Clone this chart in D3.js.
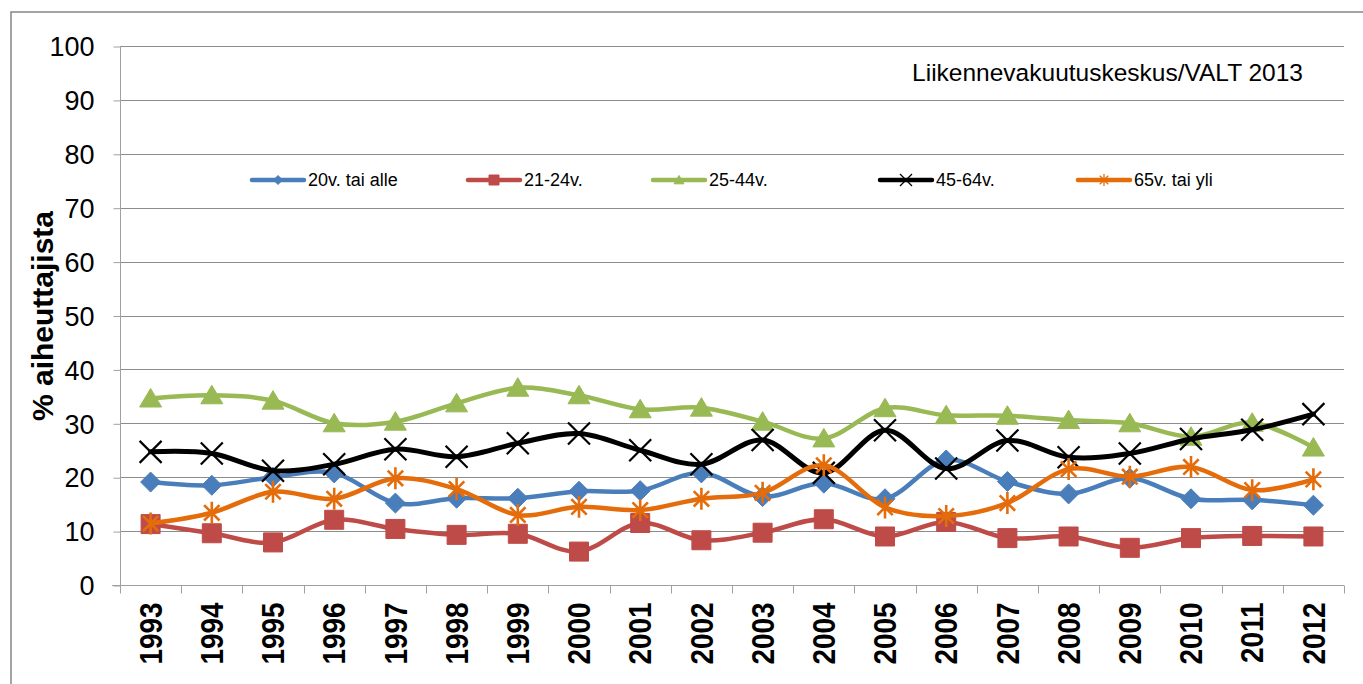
<!DOCTYPE html>
<html><head><meta charset="utf-8">
<script src="https://cdn.jsdelivr.net/npm/d3@7"></script>
<style>html,body{margin:0;padding:0;background:#fff;overflow:hidden}</style>
</head><body>
<svg id="c" width="1363" height="684"></svg>
<script>
const years = ["1993","1994","1995","1996","1997","1998","1999","2000","2001","2002","2003","2004","2005","2006","2007","2008","2009","2010","2011","2012"];
const seriesNames = ["20v. tai alle","21-24v.","25-44v.","45-64v.","65v. tai yli"];
const s20 = [19.1,18.5,20.0,20.8,15.2,16.1,16.1,17.4,17.5,20.8,16.4,18.9,16.0,23.2,19.2,16.9,19.8,16.0,15.8,14.8];
const s21 = [11.3,9.6,7.9,12.1,10.4,9.3,9.5,6.2,11.5,8.3,9.7,12.2,9.0,11.7,8.7,9.0,6.9,8.7,9.1,9.0];
const s25 = [34.6,35.2,34.2,30.0,30.3,33.7,36.6,35.2,32.6,32.9,30.3,27.2,32.8,31.5,31.4,30.6,30.0,27.5,30.1,25.5];
const s45 = [24.7,24.4,21.2,22.4,25.2,23.8,26.3,28.1,25.0,22.4,26.9,20.8,28.7,21.6,26.8,23.7,24.4,27.1,28.8,31.7];
const s65 = [11.4,13.4,17.3,16.0,19.8,17.8,13.0,14.5,13.9,16.0,17.1,22.2,14.4,12.8,15.2,21.5,20.1,21.9,17.6,19.6];
const yTicks = [0,10,20,30,40,50,60,70,80,90,100];
const yTitle = "% aiheuttajista";
const sourceText = "Liikennevakuutuskeskus/VALT 2013";

const seriesValues = [s20,s21,s25,s45,s65];
const colors = ["#4A7EBB","#BE4B48","#98B954","#000000","#E46C0A"];
const markers = ["diamond","square","triangle","x","star"];
const legendX = [252,468,653,880,1078];

const svg = d3.select("#c");
const L = 120, R = 1344, T = 46, B = 585;
const x = d3.scaleBand().domain(years).range([L,R]).padding(0);
const y = d3.scaleLinear().domain([0,100]).range([B,T]);

// outer frame
svg.append("rect").attr("x",11).attr("y",12).attr("width",1400).attr("height",700)
  .attr("fill","none").attr("stroke","#868686").attr("stroke-width",1.5);

// gridlines
svg.append("g").selectAll("line").data(yTicks.filter(d=>d>0)).join("line")
  .attr("x1",L).attr("x2",R).attr("y1",d=>Math.round(y(d))+0.5).attr("y2",d=>Math.round(y(d))+0.5)
  .attr("stroke","#8C8C8C").attr("stroke-width",1);

// y axis
const ya = svg.append("g").attr("transform",`translate(${L+0.5},0)`)
  .call(d3.axisLeft(y).tickValues(yTicks).tickSize(7).tickPadding(19).tickFormat(d3.format("d")));
ya.select(".domain").attr("stroke","#A0A0A0").attr("d",`M0,${T}V${B}`);
ya.selectAll(".tick line").attr("stroke","#A0A0A0").attr("transform","translate(0,0.5)");
ya.selectAll(".tick text").attr("font-family","Liberation Sans, Arial, sans-serif").attr("font-size",27).attr("fill","#000").attr("dy","0.36em");

// x axis
const xa = svg.append("g").attr("transform",`translate(0,${Math.round(B)+0.5})`)
  .call(d3.axisBottom(x).tickSize(0).tickFormat(d=>d));
xa.select(".domain").attr("stroke","#A0A0A0").attr("d",`M${L-8},0H${R}`);
xa.selectAll(".tick text").attr("font-family","Liberation Sans, Arial, sans-serif").attr("font-size",31)
  .attr("font-weight","bold").attr("fill","#000")
  .attr("text-anchor","end").attr("y",0).attr("x",0).attr("dy","0.36em")
  .attr("transform","translate(0,17) rotate(-90) scale(0.9,1)");
const bounds = years.map(d=>x(d)).concat([R]);
xa.append("g").selectAll("line").data(bounds).join("line")
  .attr("x1",d=>Math.round(d)+0.5).attr("x2",d=>Math.round(d)+0.5).attr("y1",0).attr("y2",8)
  .attr("stroke","#A0A0A0");

// y title
svg.append("text").attr("transform","translate(53,316) rotate(-90)")
  .attr("text-anchor","middle").attr("font-family","Liberation Sans, Arial, sans-serif")
  .attr("font-size",30).attr("font-weight","bold").attr("fill","#000").text(yTitle);

// source text
svg.append("text").attr("x",1303).attr("y",81).attr("text-anchor","end")
  .attr("font-family","Liberation Sans, Arial, sans-serif").attr("font-size",24.5).attr("fill","#000").text(sourceText);

function markerPath(type, s){
  const h = s/2;
  switch(type){
    case "diamond": return `M0,${-h}L${h},0L0,${h}L${-h},0Z`;
    case "square": return `M${-h},${-h}H${h}V${h}H${-h}Z`;
    case "triangle": return `M0,${-h*1.0}L${h*1.1},${h*0.85}L${-h*1.1},${h*0.85}Z`;
    case "x": return `M${-h},${-h}L${h},${h}M${h},${-h}L${-h},${h}`;
    case "star": { const a=h*0.7; return `M${-a},${-a}L${a},${a}M${a},${-a}L${-a},${a}M0,${-h}V${h}`; }
  }
}
function drawMarker(g, type, color, size, sw){
  const p = g.append("path").attr("d", markerPath(type,size));
  if(type==="x"||type==="star") p.attr("fill","none").attr("stroke",color).attr("stroke-width",sw);
  else p.attr("fill",color).attr("stroke",color).attr("stroke-width",1);
}

const line = d3.line().x((d,i)=>x(years[i])+x.bandwidth()/2).y(d=>y(d)).curve(d3.curveCatmullRom.alpha(0));
const sizes = [20,19,20,22,22];

seriesValues.forEach((vals,k)=>{
  const g = svg.append("g");
  g.append("path").datum(vals).attr("d",line).attr("fill","none")
    .attr("stroke",colors[k]).attr("stroke-width",k===3?5:4.5).attr("stroke-linejoin","round").attr("stroke-linecap","round");
  vals.forEach((v,i)=>{
    const mg = g.append("g").attr("transform",`translate(${x(years[i])+x.bandwidth()/2},${y(v)})`);
    drawMarker(mg, markers[k], colors[k], sizes[k], k===3?2.2:2.6);
  });
});

// legend
const ly = 180;
seriesNames.forEach((name,k)=>{
  const lg = svg.append("g").attr("transform",`translate(${legendX[k]},${ly})`);
  lg.append("line").attr("x1",0).attr("x2",52).attr("y1",0).attr("y2",0)
    .attr("stroke",colors[k]).attr("stroke-width",4.5).attr("stroke-linecap","round");
  const mg = lg.append("g").attr("transform","translate(26,0)");
  drawMarker(mg, markers[k], colors[k], k===1?10:(k>=3?12:9), 1.3);
  lg.append("text").attr("x",56).attr("y",0).attr("dy","0.36em")
    .attr("font-family","Liberation Sans, Arial, sans-serif").attr("font-size",18).attr("fill","#000").text(name);
});
</script>
</body></html>
